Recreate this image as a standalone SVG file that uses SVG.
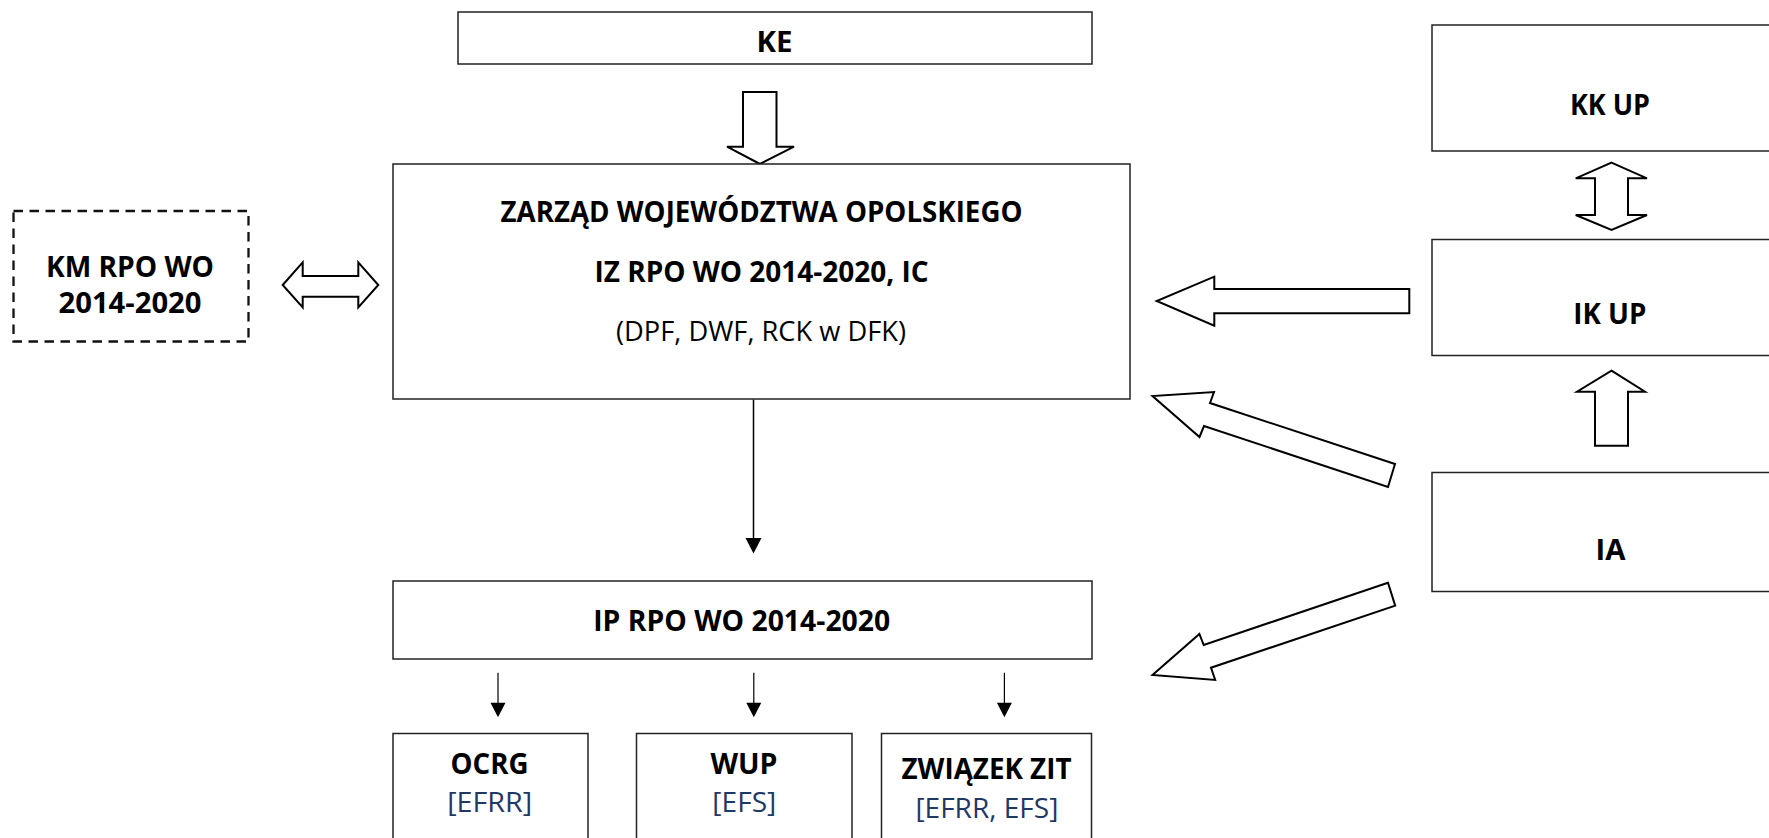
<svg xmlns="http://www.w3.org/2000/svg" width="1769" height="838" viewBox="0 0 1769 838">
<style>
.box{fill:#fff;stroke:#222;stroke-width:1.5}
.dash{fill:#fff;stroke:#111;stroke-width:2.3;stroke-dasharray:9.5 6.5}
.hollow{fill:#fff;stroke:#000;stroke-width:2;stroke-linejoin:miter}
.line{stroke:#000;stroke-width:1.5;fill:none}
.thin{stroke:#000;stroke-width:1.2;fill:none}
.head{fill:#000;stroke:none}
.b{font-family:"Open Sans","Noto Sans","Liberation Sans",sans-serif;font-weight:700;font-size:28px;fill:#000;text-anchor:middle}
.r{font-family:"Open Sans","Noto Sans","Liberation Sans",sans-serif;font-weight:400;font-size:28px;fill:#000;text-anchor:middle}
.n{font-family:"Open Sans","Noto Sans","Liberation Sans",sans-serif;font-weight:400;font-size:28px;fill:#1F3864;text-anchor:middle}
</style>
<rect width="1769" height="838" fill="#fff"/>
<g id="connectors">
<polygon class="hollow" points="743,92 776.5,92 776.5,146.7 794,146.7 760,164 727,146.7 743,146.7"/>
<polygon class="hollow" points="282.7,285 302.7,262.3 302.7,276 358.3,276 358.3,262.3 378.3,285 358.3,307.3 358.3,296.7 302.7,296.7 302.7,307.3"/>
<polygon class="hollow" points="1409.3,289 1214.3,289 1214.3,276.7 1156.7,301 1214.3,325.7 1214.3,313.3 1409.3,313.3"/>
<polygon class="hollow" points="1611.5,162.7 1647,178.3 1628,178.3 1628,215 1647,215 1611.5,230 1575.7,215 1595,215 1595,178.3 1575.7,178.3"/>
<polygon class="hollow" points="1611.5,370.7 1645,391.7 1628,391.7 1628,445.7 1595,445.7 1595,391.7 1577,391.7"/>
<polygon class="hollow" points="1395,464 1210,403 1214,392 1152.5,396 1199.5,437 1204,426 1388,487"/>
<polygon class="hollow" points="1388,582.7 1203.7,645 1199.4,634 1152.5,675 1215.2,680 1211,667.7 1395.2,605.7"/>
<line class="line" x1="753.5" y1="399.5" x2="753.5" y2="540"/>
<polygon class="head" points="745.5,538 761.5,538 753.5,553.5"/>
<line class="thin" x1="498" y1="672.7" x2="498" y2="704"/>
<polygon class="head" points="490.5,702.7 505.5,702.7 498,717.3"/>
<line class="thin" x1="753.8" y1="672.7" x2="753.8" y2="704"/>
<polygon class="head" points="746.3,702.7 761.3,702.7 753.8,717.3"/>
<line class="thin" x1="1004.4" y1="672.7" x2="1004.4" y2="704"/>
<polygon class="head" points="996.9,702.7 1011.9,702.7 1004.4,717.3"/>
</g>
<g id="node-ke">
<rect class="box" x="458" y="12" width="634" height="52"/>
<text class="b" x="774.5" y="52.2" textLength="36" lengthAdjust="spacingAndGlyphs">KE</text>
</g>
<g id="node-zwo">
<rect class="box" x="393" y="164" width="737" height="235"/>
<text class="b" x="761.5" y="222.2" textLength="522" lengthAdjust="spacingAndGlyphs">ZARZĄD WOJEWÓDZTWA OPOLSKIEGO</text>
<text class="b" x="761.5" y="282.2" textLength="334" lengthAdjust="spacingAndGlyphs">IZ RPO WO 2014-2020, IC</text>
<text class="r" x="761" y="340.5" textLength="290" lengthAdjust="spacingAndGlyphs">(DPF, DWF, RCK w DFK)</text>
</g>
<g id="node-km">
<rect class="dash" x="13.5" y="211" width="235" height="130.5"/>
<text class="b" x="130" y="276.5" textLength="168" lengthAdjust="spacingAndGlyphs">KM RPO WO</text>
<text class="b" x="130" y="313" textLength="143" lengthAdjust="spacingAndGlyphs">2014-2020</text>
</g>
<g id="node-kkup">
<rect class="box" x="1432" y="25" width="350" height="126"/>
<text class="b" x="1610" y="114.8" textLength="80" lengthAdjust="spacingAndGlyphs">KK UP</text>
</g>
<g id="node-ikup">
<rect class="box" x="1432" y="239.5" width="350" height="116"/>
<text class="b" x="1609.8" y="323.8" textLength="73" lengthAdjust="spacingAndGlyphs">IK UP</text>
</g>
<g id="node-ia">
<rect class="box" x="1432" y="472.5" width="350" height="119"/>
<text class="b" x="1610.5" y="559.8" textLength="30" lengthAdjust="spacingAndGlyphs">IA</text>
</g>
<g id="node-ip">
<rect class="box" x="393" y="581" width="699" height="78"/>
<text class="b" x="741.7" y="631.2" textLength="297" lengthAdjust="spacingAndGlyphs">IP RPO WO 2014-2020</text>
</g>
<g id="node-ocrg">
<rect class="box" x="393" y="733.5" width="195" height="120"/>
<text class="b" x="489.5" y="773.8" textLength="78" lengthAdjust="spacingAndGlyphs">OCRG</text>
<text class="n" x="489.7" y="812" textLength="85" lengthAdjust="spacingAndGlyphs">[EFRR]</text>
</g>
<g id="node-wup">
<rect class="box" x="636.5" y="733.5" width="215.5" height="120"/>
<text class="b" x="744" y="773.8" textLength="67" lengthAdjust="spacingAndGlyphs">WUP</text>
<text class="n" x="744.3" y="812" textLength="64" lengthAdjust="spacingAndGlyphs">[EFS]</text>
</g>
<g id="node-zit">
<rect class="box" x="881.5" y="733.5" width="210" height="120"/>
<text class="b" x="986.5" y="778.8" textLength="170" lengthAdjust="spacingAndGlyphs">ZWIĄZEK ZIT</text>
<text class="n" x="986.9" y="817.5" textLength="143" lengthAdjust="spacingAndGlyphs">[EFRR, EFS]</text>
</g>
</svg>
